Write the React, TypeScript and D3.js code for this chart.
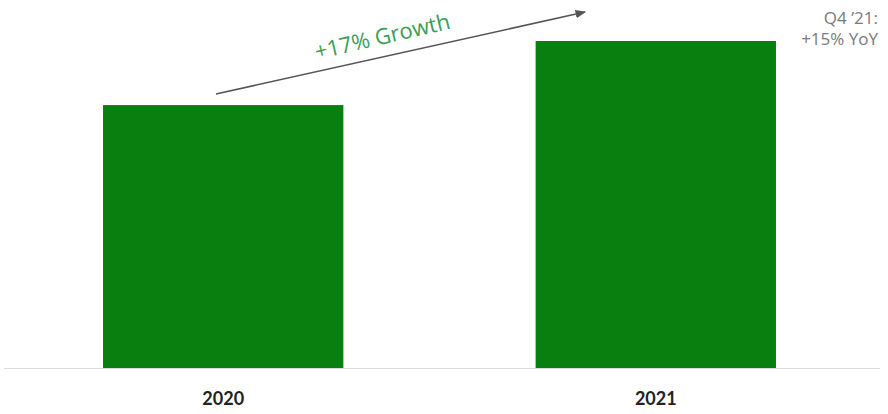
import React from "react";
import * as d3 from "d3";

const categories = ["2020", "2021"];
const values = [80.4, 100];
const growthLabel = "+17% Growth";
const noteLines = ["Q4 \u201921:", "+15% YoY"];

export default function App() {
  const W = 888, H = 414;
  const x = d3.scaleBand<string>().domain(categories).range([16.5, 862.5]).paddingInner(0.4444).paddingOuter(0.2);
  const y = d3.scaleLinear().domain([0, 100]).range([368, 41]);
  const p0: [number, number] = [216, 94];
  const p1: [number, number] = [585, 12];
  const ang = (Math.atan2(p1[1] - p0[1], p1[0] - p0[0]) * 180) / Math.PI;
  return (
    <svg width={W} height={H} style={{ position: "absolute", left: 0, top: 0 }}>
      <defs>
        <marker id="ah" viewBox="0 0 10 10" refX="9" refY="5" markerWidth="7" markerHeight="7" orient="auto">
          <path d="M0,1 L10,5 L0,9 Z" fill="#555" />
        </marker>
      </defs>
      <rect width={W} height={H} fill="#fff" />
      {categories.map((c, i) => (
        <rect key={c} x={x(c)} y={y(values[i])} width={x.bandwidth()} height={y(0) - y(values[i])} fill="#087f0e" />
      ))}
      <line x1={4} x2={880} y1={y(0) + 0.5} y2={y(0) + 0.5} stroke="#dcdcdc" strokeWidth={1} />
      {categories.map((c) => (
        <text key={c} x={(x(c) ?? 0) + x.bandwidth() / 2} y={405} textAnchor="middle" fontFamily="Lato, sans-serif" fontWeight={700} fontSize={18} fill="#222">
          {c}
        </text>
      ))}
      <line x1={p0[0]} y1={p0[1]} x2={p1[0]} y2={p1[1]} stroke="#555" strokeWidth={1.5} markerEnd="url(#ah)" />
      <text transform={`translate(384,44) rotate(${ang - 0.5})`} textAnchor="middle" fontFamily="Open Sans, sans-serif" fontSize={22} fill="#3a9e58">
        {growthLabel}
      </text>
      {noteLines.map((t, i) => (
        <text key={i} x={878} y={24 + i * 21} textAnchor="end" fontFamily="Open Sans, sans-serif" fontSize={17} fill="#7a7a7a">
          {t}
        </text>
      ))}
    </svg>
  );
}
